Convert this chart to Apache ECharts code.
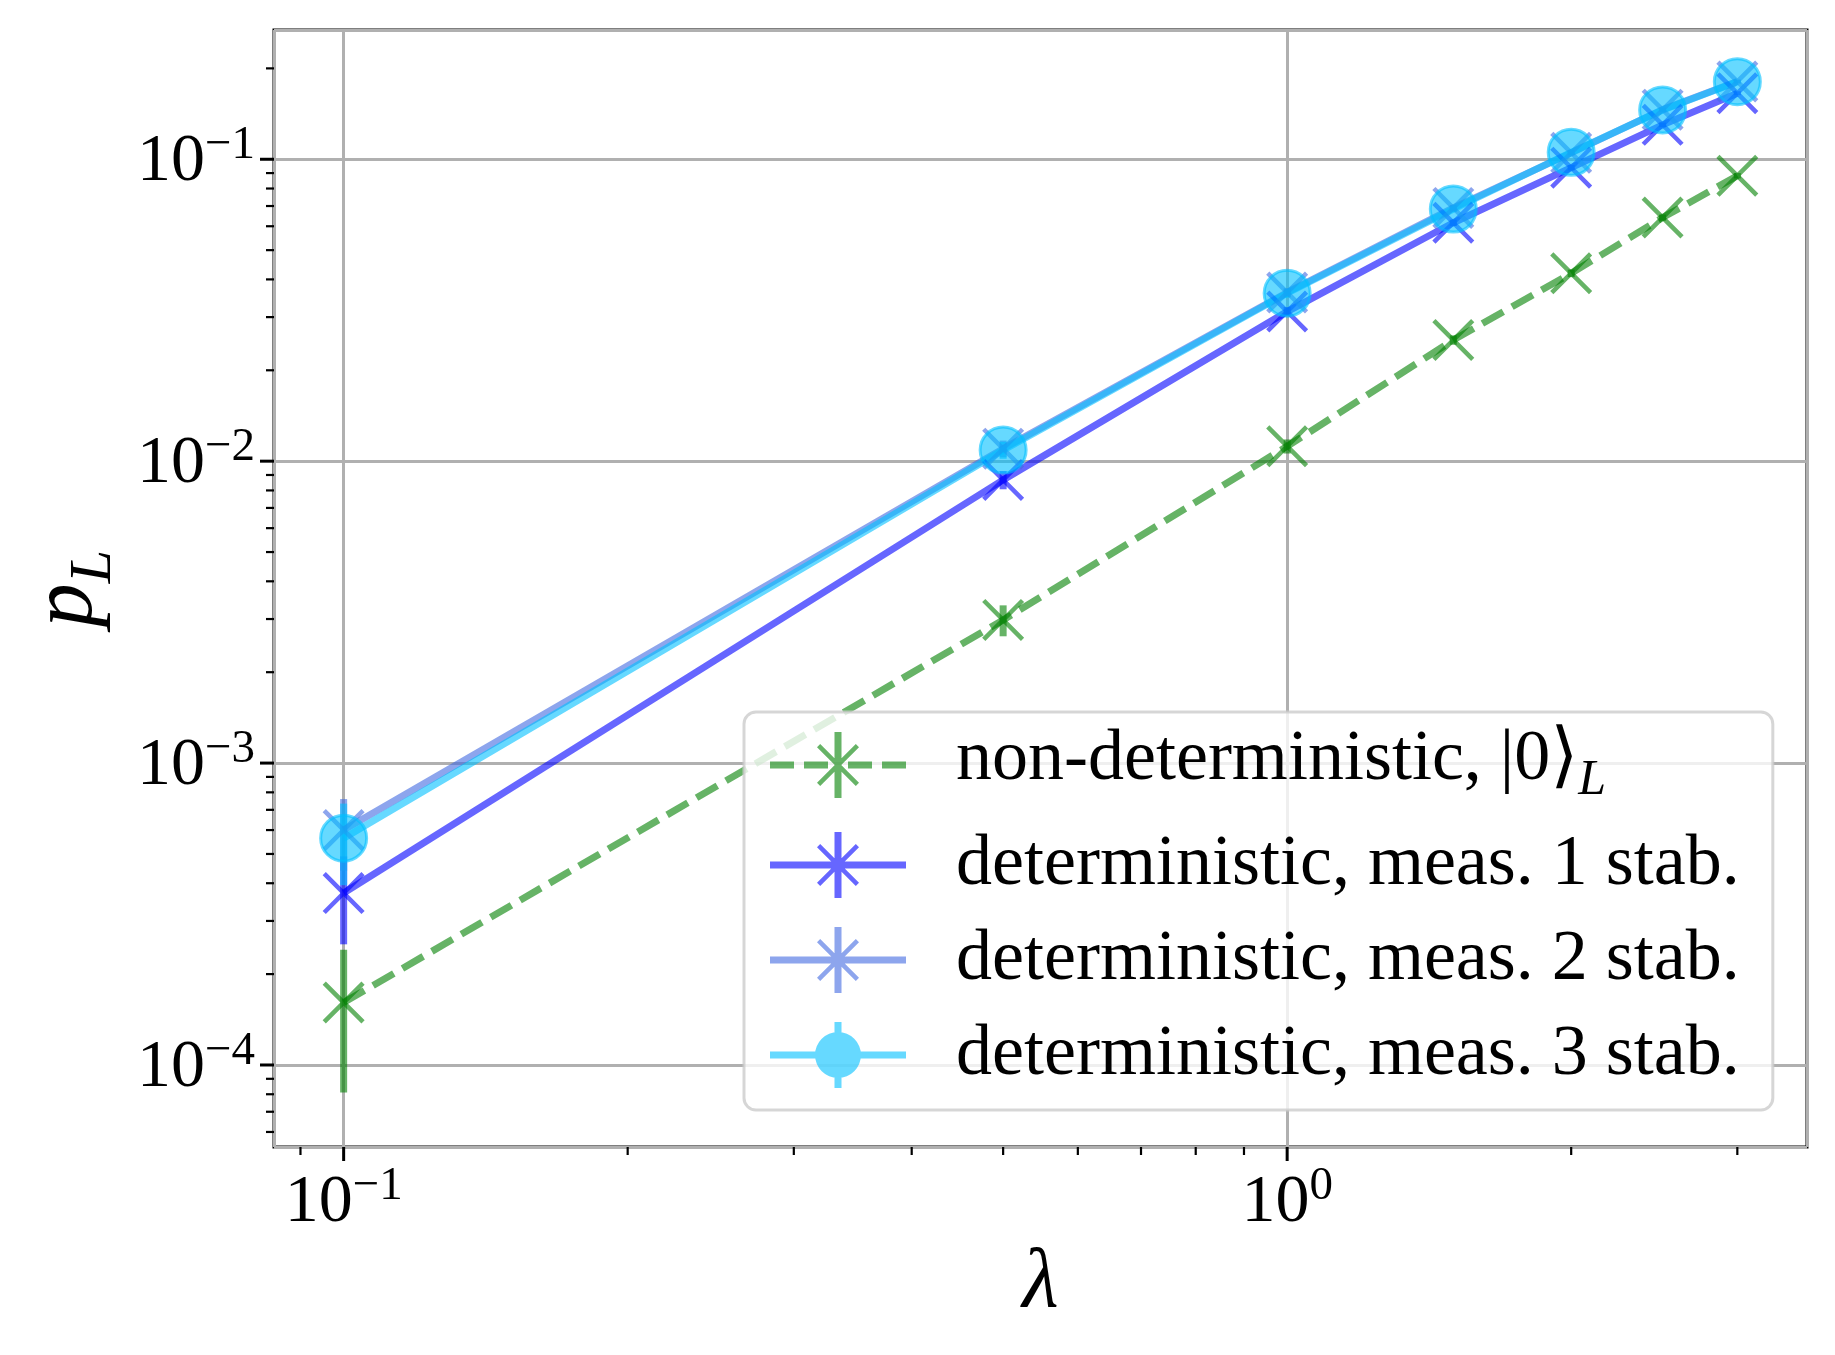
<!DOCTYPE html>
<html>
<head>
<meta charset="utf-8">
<title>p_L vs lambda</title>
<script src="https://cdn.jsdelivr.net/npm/echarts@6.0.0/dist/echarts.min.js"></script>
<style>
html, body { margin: 0; padding: 0; background: #fff; }
#main { width: 1835px; height: 1355px; }
</style>
</head>
<body>
<div id="main"></div>
<script>
// data
var lambdas = [0.1, 0.5, 1, 1.5, 2, 2.5, 3];
var nonDet = [1.61e-4, 2.98e-3, 0.0112, 0.0252, 0.0419, 0.0641, 0.0882];
var nonDetErr = [8.0e-5, 3.5e-4, 6e-4, 9e-4, 1.2e-3, 1.5e-3, 1.8e-3];
var det1 = [3.71e-4, 8.67e-3, 0.0313, 0.0616, 0.0938, 0.130, 0.1655];
var det1Err = [1.2e-4, 6e-4, 1.1e-3, 1.5e-3, 1.9e-3, 2.2e-3, 2.5e-3];
var det2 = [6.0e-4, 0.0110, 0.0362, 0.0690, 0.1050, 0.1460, 0.1810];
var det2Err = [1.6e-4, 7e-4, 1.2e-3, 1.6e-3, 2e-3, 2.3e-3, 2.6e-3];
var det3 = [5.64e-4, 0.01088, 0.0360, 0.0684, 0.1054, 0.1456, 0.1807];
var det3Err = [1.7e-4, 7e-4, 1.2e-3, 1.6e-3, 2e-3, 2.3e-3, 2.6e-3];

var names = ['non-deterministic', 'det1', 'det2', 'det3'];
var labels = ['non-deterministic, |0⟩', 'deterministic, meas. 1 stab.', 'deterministic, meas. 2 stab.', 'deterministic, meas. 3 stab.'];

// axis ticks
var xMin = 0.08437, xMax = 3.556;
var yMin = 5.35e-5, yMax = 0.268;
var xMajorTicks = [0.1, 1];
var yMajorTicks = [1e-4, 1e-3, 1e-2, 1e-1];
var minorMult = [2, 3, 4, 5, 6, 7, 8, 9];

var FONT = "'Liberation Serif', 'DejaVu Serif', serif";
var GREEN = '#008000', BLUE = '#0000ff', ROYAL = '#4169e1', SKY = '#00bfff';

function rect(x0, y0, x1, y1) {
    return 'M' + x0 + ',' + y0 + 'L' + x1 + ',' + y0 + 'L' + x1 + ',' + y1 + 'L' + x0 + ',' + y1 + 'Z';
}
function cross(x0, y0, s, a) {
    var x1 = x0 + s, y1 = y0 + s;
    return 'M' + (x0 + a) + ',' + y0 + 'L' + x1 + ',' + (y1 - a) + 'L' + (x1 - a) + ',' + y1 + 'L' + x0 + ',' + (y0 + a) + 'Z' +
        'M' + (x1 - a) + ',' + y0 + 'L' + x1 + ',' + (y0 + a) + 'L' + (x0 + a) + ',' + y1 + 'L' + x0 + ',' + (y1 - a) + 'Z';
}
var xSymbol = 'path://' + cross(0, 0, 42, 3.2);

// legend handles: line + error bar + marker
var hLine = rect(0, 29.5, 136, 36.5);
var hDash = rect(0, 29.5, 24, 36.5) + rect(34, 29.5, 58, 36.5) + rect(78, 29.5, 102, 36.5) + rect(112, 29.5, 136, 36.5);
var hBar = rect(64.5, 0, 71.5, 66);
var hCross = cross(47, 12, 42, 3.2);
var hCircle = 'M91,33A23,23 0 1 1 45,33A23,23 0 1 1 91,33Z';

function errData(vals, errs) {
    return lambdas.map(function (x, i) { return [x, vals[i] - errs[i], vals[i] + errs[i]]; });
}
function lineData(vals) {
    return lambdas.map(function (x, i) { return [x, vals[i]]; });
}
function errSeries(name, color, vals, errs) {
    return {
        name: name + '-err',
        type: 'custom',
        data: errData(vals, errs),
        encode: { x: 0, y: [1, 2] },
        renderItem: function (params, api) {
            var p1 = api.coord([api.value(0), api.value(1)]);
            var p2 = api.coord([api.value(0), api.value(2)]);
            return {
                type: 'line',
                shape: { x1: p1[0], y1: p1[1], x2: p2[0], y2: p2[1] },
                style: { stroke: color, lineWidth: 7, opacity: 0.6 }
            };
        }
    };
}

function powLabel(v) {
    var e = Math.round(Math.log10(v));
    if (Math.abs(Math.log10(v) - e) > 1e-6) return '';
    return '{b|10}{s|' + (e < 0 ? '\u2212' + (-e) : e) + '}';
}
var tickRich = {
    b: { fontFamily: FONT, fontSize: 68, color: '#000', verticalAlign: 'bottom' },
    s: { fontFamily: FONT, fontSize: 47, color: '#000', verticalAlign: 'bottom', padding: [0, 0, 27, 0] }
};

var myChart = echarts.init(document.getElementById('main'));

var option = {
    animation: false,
    backgroundColor: '#fff',
    grid: {
        left: 274, top: 30, right: 28, bottom: 208,
        show: true, borderColor: '#000', borderWidth: 3,
        containLabel: false, outerBoundsMode: 'none'
    },
    xAxis: {
        type: 'log', logBase: 10, min: xMin, max: xMax,
        name: 'λ', nameLocation: 'middle', nameGap: 92,
        nameTextStyle: { fontFamily: FONT, fontSize: 84, fontStyle: 'italic', color: '#000' },
        axisLine: { show: false }, axisTick: { show: false },
        axisLabel: { margin: 16, formatter: powLabel, rich: tickRich, color: '#000' },
        splitLine: { show: true, lineStyle: { color: '#b0b0b0', width: 3 } }
    },
    yAxis: {
        type: 'log', logBase: 10, min: yMin, max: yMax,
        name: '{p|p}{l|L}', nameLocation: 'middle', nameGap: 150,
        nameTextStyle: {
            color: '#000',
            rich: {
                p: { fontFamily: FONT, fontSize: 88, fontStyle: 'italic', color: '#000', verticalAlign: 'top' },
                l: { fontFamily: FONT, fontSize: 60, fontStyle: 'italic', color: '#000', verticalAlign: 'top', padding: [40, 0, 0, 0] }
            }
        },
        axisLine: { show: false }, axisTick: { show: false },
        axisLabel: { margin: 19, formatter: powLabel, rich: tickRich, color: '#000' },
        splitLine: { show: true, lineStyle: { color: '#b0b0b0', width: 3 } }
    },
    legend: {
        orient: 'vertical', left: 744, top: 712,
        itemWidth: 136, itemHeight: 66, itemGap: 23,
        padding: [12, 33, 19, 26],
        backgroundColor: 'rgba(255,255,255,0.8)',
        borderColor: 'rgba(204,204,204,0.8)', borderWidth: 3, borderRadius: 12,
        selectedMode: false,
        data: [
            { name: names[0], icon: 'path://' + hDash + hBar + hCross, itemStyle: { color: GREEN, opacity: 0.6, borderWidth: 0 } },
            { name: names[1], icon: 'path://' + hLine + hBar + hCross, itemStyle: { color: BLUE, opacity: 0.6, borderWidth: 0 } },
            { name: names[2], icon: 'path://' + hLine + hBar + hCross, itemStyle: { color: ROYAL, opacity: 0.6, borderWidth: 0 } },
            { name: names[3], icon: 'path://' + hLine + hBar + hCircle, itemStyle: { color: SKY, opacity: 0.6, borderWidth: 0 } }
        ],
        formatter: function (name) {
            var i = names.indexOf(name);
            if (i === 0) return '{g|' + labels[0] + '}{s|L}';
            return '{n|' + labels[i] + '}';
        },
        textStyle: {
            fontFamily: FONT, fontSize: 72, color: '#000',
            rich: {
                g: { fontFamily: FONT, fontSize: 72, color: '#000', verticalAlign: 'top', padding: [0, 0, 0, 45] },
                s: { fontFamily: FONT, fontSize: 50, fontStyle: 'italic', color: '#000', verticalAlign: 'top', padding: [32, 0, 0, 0] },
                n: { fontFamily: FONT, fontSize: 72, color: '#000', padding: [0, 0, 0, 45] }
            }
        }
    },
    series: [
        {
            name: names[0], type: 'line', data: lineData(nonDet),
            symbol: xSymbol, symbolSize: 42,
            lineStyle: { color: GREEN, width: 7, type: [24, 10], opacity: 0.6 },
            itemStyle: { color: GREEN, opacity: 0.6 }
        },
        errSeries(names[0], GREEN, nonDet, nonDetErr),
        {
            name: names[1], type: 'line', data: lineData(det1),
            symbol: xSymbol, symbolSize: 42,
            lineStyle: { color: BLUE, width: 7, opacity: 0.6 },
            itemStyle: { color: BLUE, opacity: 0.6 }
        },
        errSeries(names[1], BLUE, det1, det1Err),
        {
            name: names[2], type: 'line', data: lineData(det2),
            symbol: xSymbol, symbolSize: 42,
            lineStyle: { color: ROYAL, width: 7, opacity: 0.6 },
            itemStyle: { color: ROYAL, opacity: 0.6 }
        },
        errSeries(names[2], ROYAL, det2, det2Err),
        {
            name: names[3], type: 'line', data: lineData(det3),
            symbol: 'circle', symbolSize: 46,
            lineStyle: { color: SKY, width: 7, opacity: 0.6 },
            itemStyle: { color: SKY, opacity: 0.6, borderColor: SKY, borderWidth: 3 }
        },
        errSeries(names[3], SKY, det3, det3Err)
    ]
};

myChart.setOption(option);

// major and minor ticks drawn outside the frame, like matplotlib
function buildTicks() {
    var left = myChart.convertToPixel({ xAxisIndex: 0 }, xMin);
    var bottom = myChart.convertToPixel({ yAxisIndex: 0 }, yMin);
    var els = [];
    function yTick(v, len, w) {
        var y = myChart.convertToPixel({ yAxisIndex: 0 }, v);
        els.push({ type: 'line', shape: { x1: left - len, y1: y, x2: left, y2: y }, style: { stroke: '#000', lineWidth: w } });
    }
    function xTick(v, len, w) {
        var x = myChart.convertToPixel({ xAxisIndex: 0 }, v);
        els.push({ type: 'line', shape: { x1: x, y1: bottom, x2: x, y2: bottom + len }, style: { stroke: '#000', lineWidth: w } });
    }
    yMajorTicks.forEach(function (v) { yTick(v, 14, 3); });
    xMajorTicks.forEach(function (v) { xTick(v, 14, 3); });
    for (var d = -5; d <= 0; d++) {
        minorMult.forEach(function (m) {
            var v = m * Math.pow(10, d);
            if (v > yMin && v < yMax) yTick(v, 8, 2.2);
            if (v > xMin && v < xMax) xTick(v, 8, 2.2);
        });
    }
    return els;
}
myChart.setOption({ graphic: { elements: buildTicks() } });
</script>
</body>
</html>
